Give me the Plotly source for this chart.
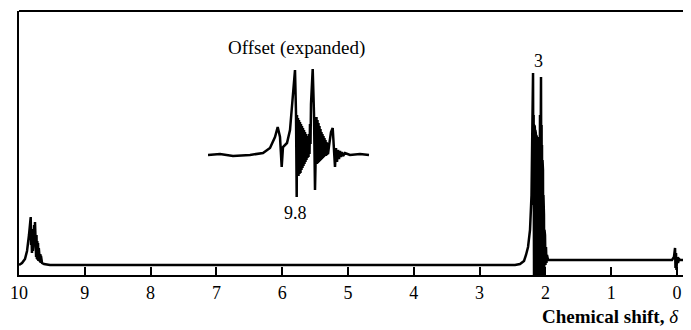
import plotly.graph_objects as go

# ---- main spectrum (chemical shift delta, relative intensity) ----
shift = [
    10.00, 9.954, 9.909, 9.878, 9.848, 9.830, 9.822, 9.816, 9.810, 9.803, 9.795, 9.789,
    9.784, 9.770, 9.762, 9.757, 9.751, 9.745, 9.740, 9.734, 9.728, 9.722, 9.716, 9.711,
    9.705, 9.699, 9.693, 9.688, 9.682, 9.676, 9.671, 9.666, 9.650, 9.620, 9.53, 9.0,
    8.0, 7.0, 6.0, 5.0, 4.0, 3.0, 2.55, 2.462, 2.386, 2.325, 2.295, 2.264, 2.234,
    2.211, 2.196, 2.188, 2.183, 2.179, 2.173, 2.169, 2.165, 2.161, 2.158, 2.154, 2.150,
    2.146, 2.143, 2.139, 2.135, 2.131, 2.128, 2.124, 2.120, 2.105, 2.097, 2.093, 2.090,
    2.086, 2.082, 2.075, 2.067, 2.062, 2.058, 2.055, 2.052, 2.048, 2.044, 2.040, 2.037,
    2.033, 2.030, 2.026, 2.022, 2.018, 2.014, 2.010, 2.006, 1.999, 1.991, 1.984, 1.976,
    1.960, 1.90, 1.0, 0.50, 0.076, 0.046, 0.030, 0.023, 0.015, 0.008, 0.000, -0.015,
    -0.030, -0.046, -0.17,
]
intensity = [
    0, 2, 6, 14, 30, 40, 48, 20, 30, 12, 36, 14,
    18, 40, 20, 43, 10, 34, 8, 30, 6, 24, 5, 22,
    4, 17, 3, 15, 3, 11, 2, 9, 2, 1, 0, 0,
    0, 0, 0, 0, 0, 0, 0, 0, 1, 4, 10, 18, 35,
    70, 150, 192, 60, 150, -12, 140, -12, 138, -12, 135, -12,
    132, -12, 130, -12, 128, -12, 125, -12, -12, 128, -12, 140,
    -12, 150, 80, 188, 40, 140, -12, 120, -12, 105, -12, 95,
    -12, 70, -8, 50, -5, 35, -2, 30, 0, 18, 2, 10,
    5, 5, 5, 5, 5, 8, 17, -3, 12, -5, 8, 2,
    6, 5, 5,
]

# ---- inset: expanded aldehyde multiplet (offset units, relative intensity) ----
offset = [
    0, 12, 25, 42, 55, 62, 67, 69.7, 72, 73.7, 75, 79, 82, 84.7, 87, 88, 88.7,
    89, 89.5, 90, 90.5, 91, 91.5, 92, 92.5, 93, 93.5, 94, 94.5, 95, 95.5, 96, 96.5,
    97, 97.5, 98, 98.5, 99, 99.5, 100, 100.5, 101, 101.5, 102, 102.5, 103, 104, 104.7,
    106, 107, 108.5, 109, 109.5, 110, 110.5, 111, 111.5, 112, 112.5, 113, 113.5, 114,
    114.5, 115, 115.5, 116, 116.5, 117, 117.5, 118, 118.5, 119, 119.5, 120, 121, 122,
    123, 124.7, 126, 127, 128, 129, 130, 131, 132, 133, 134, 135, 137, 142, 152, 161,
]
inset_int = [
    -1, 0, -2, -1, 1, 6, 17, 27, 17, -13, 7, 11, 24, 57, 84, 41, -43,
    39, -20, 36, -22, 34, -20, 32, -19, 30, -16, 28, -14, 26, -12, 24, -10,
    22, -8, 20, -6, 18, -4, 17, -3, 20, 0, 30, 10, 50, 70, 85,
    40, -36, 37, -10, 34, -9, 31, -8, 28, -7, 25, -6, 22, -5,
    20, -4, 18, -3, 16, -2, 14, -2, 12, -1, 11, 0, 8, 15,
    22, 26, 5, -13, 6, -8, 4, -5, 3, -3, 2, -2, 1, -1, 0, -1, -2, -2,
]

tick_vals = [10, 9, 8, 7, 6, 5, 4, 3, 2, 1, 0]
tick_text = ["10", "9", "8", "7", "6", "5", "4", "3", "2", "1", "0"]

SERIF = "'Liberation Serif', 'DejaVu Serif', serif"

fig = go.Figure()
fig.add_trace(go.Scatter(
    x=shift, y=intensity, mode="lines",
    line=dict(color="black", width=2.5), hoverinfo="skip",
    xaxis="x", yaxis="y",
))
fig.add_trace(go.Scatter(
    x=offset, y=inset_int, mode="lines",
    line=dict(color="black", width=2.5), hoverinfo="skip",
    xaxis="x2", yaxis="y2",
))

# page has an 8px body margin, so the figure is shrunk/shifted to compensate
PAGE_OFF = 8
W, H = 691 - PAGE_OFF, 330 - PAGE_OFF
L, R, T, B = 19 - PAGE_OFF, 3, 11 - PAGE_OFF, 55
pw, ph = W - L - R, H - T - B


def px_x(x):  # page x pixel -> paper fraction
    return (x - 19) / pw


def px_y(y):  # page y pixel -> paper fraction
    return (275 - y) / ph


fig.update_layout(
    width=W, height=H,
    margin=dict(l=L, r=R, t=T, b=B, autoexpand=False),
    paper_bgcolor="white", plot_bgcolor="white",
    showlegend=False,
    xaxis=dict(
        range=[10, -0.167], tickvals=tick_vals, ticktext=tick_text,
        ticks="inside", ticklen=8, tickwidth=1.5, tickcolor="black",
        showline=True, linecolor="black", linewidth=2,
        showgrid=False, zeroline=False,
        tickfont=dict(family=SERIF, size=18, color="black"),
        fixedrange=True,
    ),
    yaxis=dict(
        range=[-10, 254], showticklabels=False, ticks="",
        showline=True, linecolor="black", linewidth=2,
        showgrid=False, zeroline=False, fixedrange=True,
    ),
    xaxis2=dict(
        domain=[px_x(208), px_x(372)], range=[0, 164], anchor="y2",
        visible=False, fixedrange=True,
    ),
    yaxis2=dict(
        domain=[px_y(210), px_y(50)], range=[-56, 104], anchor="x2",
        visible=False, fixedrange=True,
    ),
    shapes=[
        dict(type="line", xref="paper", yref="paper", x0=0, x1=1, y0=1, y1=1,
             line=dict(color="black", width=2)),
        dict(type="line", xref="paper", yref="paper", x0=1, x1=1, y0=0, y1=1,
             line=dict(color="#8a8a8a", width=1.5)),
    ],
    annotations=[
        dict(text="Offset (expanded)", xref="paper", yref="paper",
             x=px_x(296), y=px_y(48), xanchor="center", yanchor="middle",
             showarrow=False,
             font=dict(family=SERIF, size=19, color="black")),
        dict(text="9.8", xref="paper", yref="paper",
             x=px_x(295), y=px_y(213), xanchor="center", yanchor="middle",
             showarrow=False,
             font=dict(family=SERIF, size=18, color="black")),
        dict(text="3", xref="paper", yref="paper",
             x=px_x(538), y=px_y(61), xanchor="center", yanchor="middle",
             showarrow=False,
             font=dict(family=SERIF, size=18, color="black")),
        dict(text="<b>Chemical shift,</b> <i>δ</i>", xref="paper", yref="paper",
             x=px_x(610), y=px_y(316), xanchor="center", yanchor="middle",
             showarrow=False,
             font=dict(family=SERIF, size=19, color="black")),
    ],
)

fig.write_html("out.html")
